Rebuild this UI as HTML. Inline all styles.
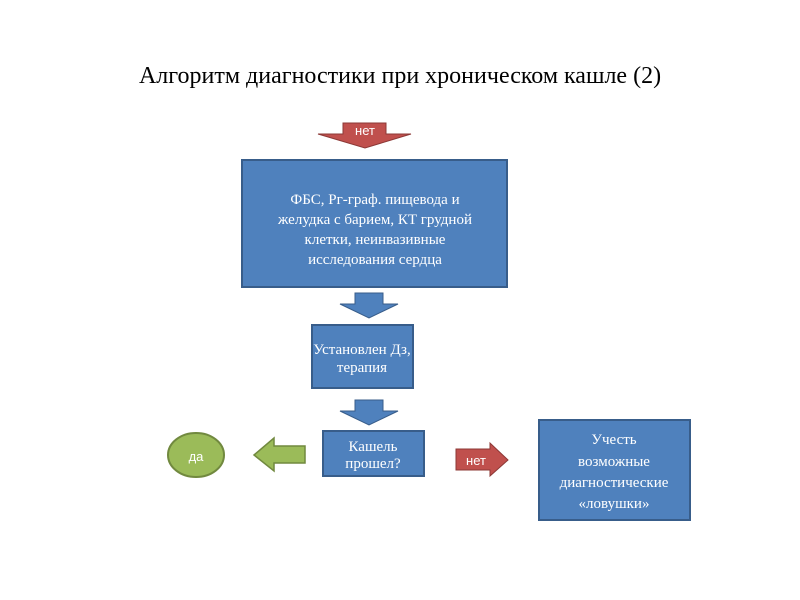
<!DOCTYPE html>
<html><head><meta charset="utf-8"><style>
body{margin:0;background:#fff;}
svg{display:block}
.s{font-family:"Liberation Serif",serif;fill:#fff;font-size:15px;text-anchor:middle}
.a{font-family:"Liberation Sans","DejaVu Sans",sans-serif;fill:#fff;font-size:13px;text-anchor:middle}
</style></head><body>
<svg width="800" height="600" viewBox="0 0 800 600" xmlns="http://www.w3.org/2000/svg">
<rect width="800" height="600" fill="#fff"/>
<text x="400" y="83" font-family="Liberation Serif,serif" font-size="24" text-anchor="middle" fill="#000">Алгоритм диагностики при хроническом кашле (2)</text>
<polygon points="343,123 386,123 386,134 411,134 365,148 318,134 343,134" fill="#c0504d" stroke="#8c3836"/>
<text x="365" y="135" class="a" font-size="12">нет</text>
<rect x="242" y="160" width="265" height="127" fill="#4f81bd" stroke="#385d8a" stroke-width="2"/>
<text class="s" x="375" y="204">ФБС, Рг-граф. пищевода и</text>
<text class="s" x="375" y="224">желудка с барием, КТ грудной</text>
<text class="s" x="375" y="244">клетки, неинвазивные</text>
<text class="s" x="375" y="264">исследования сердца</text>
<polygon points="355,293 383,293 383,304 398,304 369,318 340,304 355,304" fill="#4f81bd" stroke="#385d8a"/>
<rect x="312" y="325" width="101" height="63" fill="#4f81bd" stroke="#385d8a" stroke-width="2"/>
<text class="s" x="362" y="354" font-size="13">Установлен Дз,</text>
<text class="s" x="362" y="372" font-size="13">терапия</text>
<polygon points="355,400 383,400 383,411 398,411 369,425 340,411 355,411" fill="#4f81bd" stroke="#385d8a"/>
<rect x="323" y="431" width="101" height="45" fill="#4f81bd" stroke="#385d8a" stroke-width="2"/>
<text class="s" x="373" y="451" font-size="13">Кашель</text>
<text class="s" x="373" y="468" font-size="13">прошел?</text>
<ellipse cx="196" cy="455" rx="28" ry="22" fill="#9bbb59" stroke="#71893f" stroke-width="2"/>
<text class="a" x="196" y="461" font-size="15">да</text>
<polygon points="305,446 305,463 274,463 274,471 254,455 274,438 274,446" fill="#9bbb59" stroke="#71893f" stroke-width="1.5"/>
<polygon points="456,449 490,449 490,443 508,460 490,476 490,470 456,470" fill="#c0504d" stroke="#8c3836"/>
<text class="a" x="476" y="465" font-size="12">нет</text>
<rect x="539" y="420" width="151" height="100" fill="#4f81bd" stroke="#385d8a" stroke-width="2"/>
<text class="s" x="614" y="444">Учесть</text>
<text class="s" x="614" y="466">возможные</text>
<text class="s" x="614" y="487">диагностические</text>
<text class="s" x="614" y="508">«ловушки»</text>
</svg>
</body></html>
